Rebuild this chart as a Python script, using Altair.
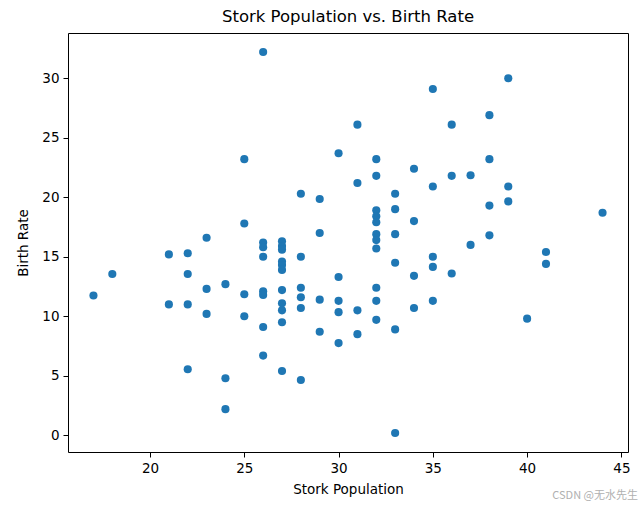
import altair as alt
import pandas as pd

# Stork population (x) and birth rate (y)
stork_population = (
    [17] + [18] + [21] * 2 + [22] * 4 + [23] * 3 + [24] * 3 + [25] * 4
    + [26] * 8 + [27] * 11 + [28] * 6 + [29] * 4 + [30] * 5 + [31] * 4
    + [32] * 11 + [33] * 6 + [34] * 4 + [35] * 5 + [36] * 3 + [37] * 2
    + [38] * 4 + [39] * 3 + [40] + [41] * 2 + [44]
)
birth_rate = [
    11.75,
    13.55,
    15.2, 11.0,
    15.3, 13.55, 11.0, 5.55,
    16.6, 12.3, 10.2,
    12.7, 4.8, 2.2,
    23.2, 17.8, 11.85, 10.0,
    32.2, 16.2, 15.8, 15.0, 12.1, 11.8, 9.1, 6.7,
    16.3, 15.9, 15.6, 14.6, 14.3, 13.9, 12.2, 11.1, 10.5, 9.5, 5.4,
    20.3, 15.0, 12.4, 11.6, 10.7, 4.65,
    19.85, 17.0, 11.4, 8.7,
    23.7, 13.3, 11.3, 10.35, 7.75,
    26.1, 21.2, 10.5, 8.5,
    23.2, 21.8, 18.9, 18.4, 17.9, 16.9, 16.4, 15.7, 12.4, 11.3, 9.7,
    20.3, 19.0, 16.9, 14.5, 8.9, 0.2,
    22.4, 18.0, 13.4, 10.7,
    29.1, 20.9, 15.0, 14.15, 11.3,
    26.1, 21.8, 13.6,
    21.85, 16.0,
    26.9, 23.2, 19.3, 16.8,
    30.0, 20.9, 19.65,
    9.8,
    15.4, 14.4,
    18.7,
]
x_ticks = [20, 25, 30, 35, 40, 45]
y_ticks = [0, 5, 10, 15, 20, 25, 30]

df = pd.DataFrame({"Stork Population": stork_population, "Birth Rate": birth_rate})

FONT = "DejaVu Sans"

points = alt.Chart(df).mark_circle(size=66, color="#1f77b4", opacity=1).encode(
    x=alt.X(
        "Stork Population:Q",
        scale=alt.Scale(domain=[15.65, 45.35], nice=False, zero=False),
        axis=alt.Axis(values=x_ticks, title="Stork Population", grid=False,
                      titlePadding=8),
    ),
    y=alt.Y(
        "Birth Rate:Q",
        scale=alt.Scale(domain=[-1.4, 33.8], nice=False, zero=False),
        axis=alt.Axis(values=y_ticks, title="Birth Rate", grid=False,
                      titlePadding=11),
    ),
)

watermark = alt.Chart(pd.DataFrame({"t": ["CSDN @无水先生"]})).mark_text(
    font="Noto Sans CJK SC", fontSize=11, color="#b0b0b0", align="right",
    baseline="middle", clip=False,
).encode(
    text="t:N",
    x=alt.value(570),
    y=alt.value(463),
)

chart = (
    alt.layer(points, watermark)
    .properties(
        width=560,
        height=419,
        autosize=alt.AutoSizeParams(type="none"),
        padding={"left": 68, "top": 33, "right": 16, "bottom": 56},
        background="white",
        title=alt.TitleParams(
            "Stork Population vs. Birth Rate",
            font=FONT, fontSize=16.5, fontWeight="normal", color="black",
            anchor="middle", offset=8,
        ),
    )
    .configure_view(stroke="black", strokeWidth=1)
    .configure_axis(
        domain=False,
        ticks=True,
        tickSize=5,
        tickColor="black",
        tickWidth=1,
        labelFont=FONT,
        labelFontSize=13.5,
        labelColor="black",
        labelPadding=4,
        titleFont=FONT,
        titleFontSize=13.5,
        titleFontWeight="normal",
        titleColor="black",
    )
)

chart.save("out.html", embed_options={"renderer": "svg", "actions": False})
